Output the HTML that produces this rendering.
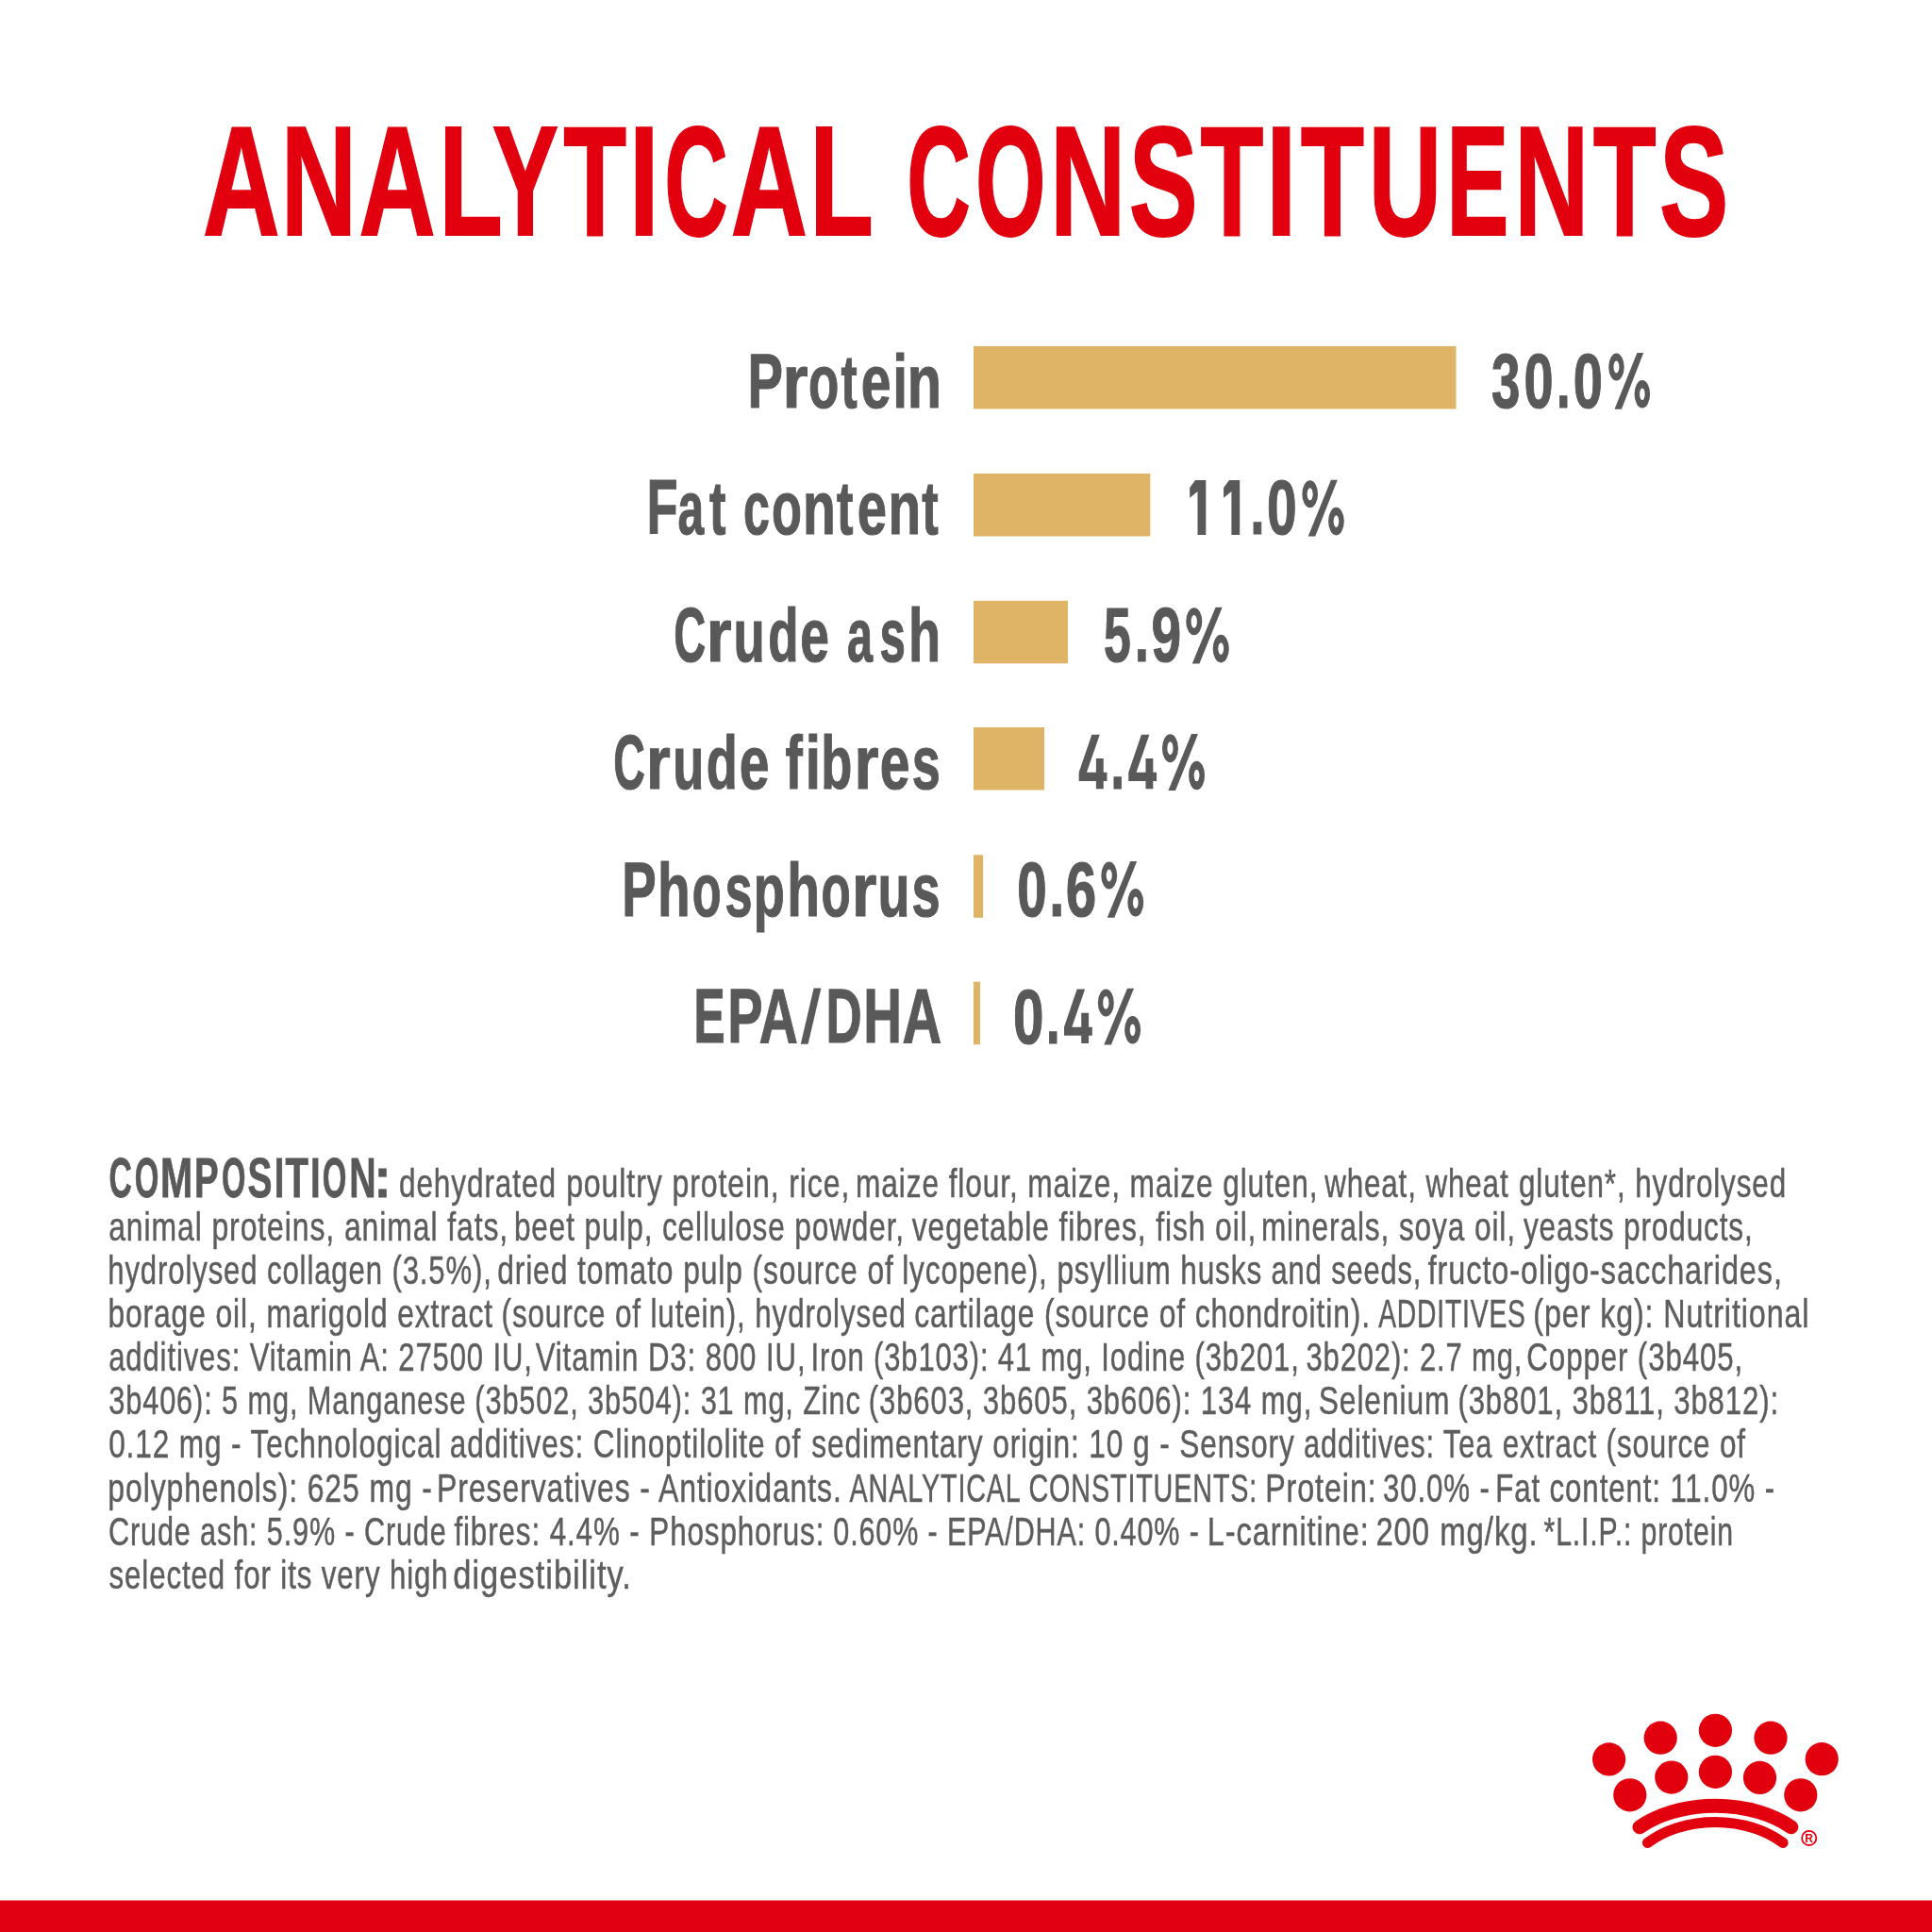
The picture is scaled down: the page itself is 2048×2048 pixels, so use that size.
<!DOCTYPE html>
<html><head><meta charset="utf-8"><style>
html,body{margin:0;padding:0;background:#fff;width:2048px;height:2048px;overflow:hidden}
svg{display:block;font-family:"Liberation Sans",sans-serif;will-change:transform}
</style></head><body>
<svg width="2048" height="2048" viewBox="0 0 2048 2048">
<rect x="0" y="0" width="2048" height="2048" fill="#fff"/>
<text x="215.00" y="248.90" font-size="165.38" font-weight="700" fill="#e2000f" stroke="#e2000f" stroke-width="1.8" textLength="81.62" lengthAdjust="spacingAndGlyphs">A</text>
<text x="297.80" y="248.90" font-size="165.38" font-weight="700" fill="#e2000f" stroke="#e2000f" stroke-width="1.8" textLength="80.42" lengthAdjust="spacingAndGlyphs">N</text>
<text x="380.61" y="248.90" font-size="165.38" font-weight="700" fill="#e2000f" stroke="#e2000f" stroke-width="1.8" textLength="81.19" lengthAdjust="spacingAndGlyphs">A</text>
<text x="465.24" y="248.90" font-size="165.38" font-weight="700" fill="#e2000f" stroke="#e2000f" stroke-width="1.8" textLength="67.67" lengthAdjust="spacingAndGlyphs">L</text>
<text x="521.79" y="248.90" font-size="165.38" font-weight="700" fill="#e2000f" stroke="#e2000f" stroke-width="1.8" textLength="70.29" lengthAdjust="spacingAndGlyphs">Y</text>
<text x="597.14" y="248.90" font-size="165.38" font-weight="700" fill="#e2000f" stroke="#e2000f" stroke-width="1.8" textLength="66.88" lengthAdjust="spacingAndGlyphs">T</text>
<text x="666.75" y="248.90" font-size="165.38" font-weight="700" fill="#e2000f" stroke="#e2000f" stroke-width="1.8" textLength="31.99" lengthAdjust="spacingAndGlyphs">I</text>
<text x="704.28" y="248.90" font-size="165.38" font-weight="700" fill="#e2000f" stroke="#e2000f" stroke-width="1.8" textLength="67.57" lengthAdjust="spacingAndGlyphs">C</text>
<text x="774.71" y="248.90" font-size="165.38" font-weight="700" fill="#e2000f" stroke="#e2000f" stroke-width="1.8" textLength="81.19" lengthAdjust="spacingAndGlyphs">A</text>
<text x="858.34" y="248.90" font-size="165.38" font-weight="700" fill="#e2000f" stroke="#e2000f" stroke-width="1.8" textLength="67.67" lengthAdjust="spacingAndGlyphs">L</text>
<text x="961.18" y="248.90" font-size="165.38" font-weight="700" fill="#e2000f" stroke="#e2000f" stroke-width="1.8" textLength="67.68" lengthAdjust="spacingAndGlyphs">C</text>
<text x="1033.99" y="248.90" font-size="165.38" font-weight="700" fill="#e2000f" stroke="#e2000f" stroke-width="1.8" textLength="74.55" lengthAdjust="spacingAndGlyphs">O</text>
<text x="1113.10" y="248.90" font-size="165.38" font-weight="700" fill="#e2000f" stroke="#e2000f" stroke-width="1.8" textLength="80.42" lengthAdjust="spacingAndGlyphs">N</text>
<text x="1196.66" y="248.90" font-size="165.38" font-weight="700" fill="#e2000f" stroke="#e2000f" stroke-width="1.8" textLength="72.96" lengthAdjust="spacingAndGlyphs">S</text>
<text x="1272.54" y="248.90" font-size="165.38" font-weight="700" fill="#e2000f" stroke="#e2000f" stroke-width="1.8" textLength="66.88" lengthAdjust="spacingAndGlyphs">T</text>
<text x="1341.91" y="248.90" font-size="165.38" font-weight="700" fill="#e2000f" stroke="#e2000f" stroke-width="1.8" textLength="32.57" lengthAdjust="spacingAndGlyphs">I</text>
<text x="1378.83" y="248.90" font-size="165.38" font-weight="700" fill="#e2000f" stroke="#e2000f" stroke-width="1.8" textLength="67.40" lengthAdjust="spacingAndGlyphs">T</text>
<text x="1450.72" y="248.90" font-size="165.38" font-weight="700" fill="#e2000f" stroke="#e2000f" stroke-width="1.8" textLength="77.48" lengthAdjust="spacingAndGlyphs">U</text>
<text x="1533.20" y="248.90" font-size="165.38" font-weight="700" fill="#e2000f" stroke="#e2000f" stroke-width="1.8" textLength="66.23" lengthAdjust="spacingAndGlyphs">E</text>
<text x="1605.32" y="248.90" font-size="165.38" font-weight="700" fill="#e2000f" stroke="#e2000f" stroke-width="1.8" textLength="79.07" lengthAdjust="spacingAndGlyphs">N</text>
<text x="1688.64" y="248.90" font-size="165.38" font-weight="700" fill="#e2000f" stroke="#e2000f" stroke-width="1.8" textLength="66.88" lengthAdjust="spacingAndGlyphs">T</text>
<text x="1759.04" y="248.90" font-size="165.38" font-weight="700" fill="#e2000f" stroke="#e2000f" stroke-width="1.8" textLength="73.41" lengthAdjust="spacingAndGlyphs">S</text>
<text x="792.42" y="431.70" font-size="81.76" font-weight="700" fill="#595959" stroke="#595959" stroke-width="1.2" textLength="37.49" lengthAdjust="spacingAndGlyphs">P</text>
<text x="829.39" y="431.70" font-size="79.26" font-weight="700" fill="#595959" stroke="#595959" stroke-width="1.2" textLength="27.06" lengthAdjust="spacingAndGlyphs">r</text>
<text x="857.00" y="431.70" font-size="79.26" font-weight="700" fill="#595959" stroke="#595959" stroke-width="1.2" textLength="32.31" lengthAdjust="spacingAndGlyphs">o</text>
<text x="891.45" y="431.70" font-size="79.26" font-weight="700" fill="#595959" stroke="#595959" stroke-width="1.2" textLength="17.23" lengthAdjust="spacingAndGlyphs">t</text>
<text x="912.73" y="431.70" font-size="79.26" font-weight="700" fill="#595959" stroke="#595959" stroke-width="1.2" textLength="31.83" lengthAdjust="spacingAndGlyphs">e</text>
<text x="946.45" y="431.70" font-size="79.26" font-weight="700" fill="#595959" stroke="#595959" stroke-width="1.2" textLength="15.41" lengthAdjust="spacingAndGlyphs">i</text>
<text x="961.77" y="431.70" font-size="79.26" font-weight="700" fill="#595959" stroke="#595959" stroke-width="1.2" textLength="36.20" lengthAdjust="spacingAndGlyphs">n</text>
<text x="685.56" y="566.40" font-size="81.76" font-weight="700" fill="#595959" stroke="#595959" stroke-width="1.2" textLength="33.09" lengthAdjust="spacingAndGlyphs">F</text>
<text x="718.59" y="566.40" font-size="79.26" font-weight="700" fill="#595959" stroke="#595959" stroke-width="1.2" textLength="27.64" lengthAdjust="spacingAndGlyphs">a</text>
<text x="751.94" y="566.40" font-size="79.26" font-weight="700" fill="#595959" stroke="#595959" stroke-width="1.2" textLength="17.45" lengthAdjust="spacingAndGlyphs">t</text>
<text x="788.00" y="566.40" font-size="79.26" font-weight="700" fill="#595959" stroke="#595959" stroke-width="1.2" textLength="27.87" lengthAdjust="spacingAndGlyphs">c</text>
<text x="818.12" y="566.40" font-size="79.26" font-weight="700" fill="#595959" stroke="#595959" stroke-width="1.2" textLength="31.97" lengthAdjust="spacingAndGlyphs">o</text>
<text x="851.03" y="566.40" font-size="79.26" font-weight="700" fill="#595959" stroke="#595959" stroke-width="1.2" textLength="34.80" lengthAdjust="spacingAndGlyphs">n</text>
<text x="886.94" y="566.40" font-size="79.26" font-weight="700" fill="#595959" stroke="#595959" stroke-width="1.2" textLength="17.45" lengthAdjust="spacingAndGlyphs">t</text>
<text x="908.67" y="566.40" font-size="79.26" font-weight="700" fill="#595959" stroke="#595959" stroke-width="1.2" textLength="31.25" lengthAdjust="spacingAndGlyphs">e</text>
<text x="941.55" y="566.40" font-size="79.26" font-weight="700" fill="#595959" stroke="#595959" stroke-width="1.2" textLength="34.55" lengthAdjust="spacingAndGlyphs">n</text>
<text x="977.24" y="566.40" font-size="79.26" font-weight="700" fill="#595959" stroke="#595959" stroke-width="1.2" textLength="17.45" lengthAdjust="spacingAndGlyphs">t</text>
<text x="714.24" y="701.40" font-size="81.76" font-weight="700" fill="#595959" stroke="#595959" stroke-width="1.2" textLength="33.88" lengthAdjust="spacingAndGlyphs">C</text>
<text x="748.84" y="701.40" font-size="79.26" font-weight="700" fill="#595959" stroke="#595959" stroke-width="1.2" textLength="26.81" lengthAdjust="spacingAndGlyphs">r</text>
<text x="777.56" y="701.40" font-size="79.26" font-weight="700" fill="#595959" stroke="#595959" stroke-width="1.2" textLength="33.29" lengthAdjust="spacingAndGlyphs">u</text>
<text x="814.13" y="701.40" font-size="79.26" font-weight="700" fill="#595959" stroke="#595959" stroke-width="1.2" textLength="32.31" lengthAdjust="spacingAndGlyphs">d</text>
<text x="848.31" y="701.40" font-size="79.26" font-weight="700" fill="#595959" stroke="#595959" stroke-width="1.2" textLength="30.68" lengthAdjust="spacingAndGlyphs">e</text>
<text x="898.02" y="701.40" font-size="79.26" font-weight="700" fill="#595959" stroke="#595959" stroke-width="1.2" textLength="27.02" lengthAdjust="spacingAndGlyphs">a</text>
<text x="932.59" y="701.40" font-size="79.26" font-weight="700" fill="#595959" stroke="#595959" stroke-width="1.2" textLength="27.37" lengthAdjust="spacingAndGlyphs">s</text>
<text x="963.02" y="701.40" font-size="79.26" font-weight="700" fill="#595959" stroke="#595959" stroke-width="1.2" textLength="34.14" lengthAdjust="spacingAndGlyphs">h</text>
<text x="650.35" y="836.00" font-size="81.76" font-weight="700" fill="#595959" stroke="#595959" stroke-width="1.2" textLength="33.55" lengthAdjust="spacingAndGlyphs">C</text>
<text x="685.03" y="836.00" font-size="79.26" font-weight="700" fill="#595959" stroke="#595959" stroke-width="1.2" textLength="25.68" lengthAdjust="spacingAndGlyphs">r</text>
<text x="713.18" y="836.00" font-size="79.26" font-weight="700" fill="#595959" stroke="#595959" stroke-width="1.2" textLength="33.16" lengthAdjust="spacingAndGlyphs">u</text>
<text x="748.68" y="836.00" font-size="79.26" font-weight="700" fill="#595959" stroke="#595959" stroke-width="1.2" textLength="33.04" lengthAdjust="spacingAndGlyphs">d</text>
<text x="783.74" y="836.00" font-size="79.26" font-weight="700" fill="#595959" stroke="#595959" stroke-width="1.2" textLength="31.71" lengthAdjust="spacingAndGlyphs">e</text>
<text x="832.53" y="836.00" font-size="79.26" font-weight="700" fill="#595959" stroke="#595959" stroke-width="1.2" textLength="18.29" lengthAdjust="spacingAndGlyphs">f</text>
<text x="853.65" y="836.00" font-size="79.26" font-weight="700" fill="#595959" stroke="#595959" stroke-width="1.2" textLength="16.21" lengthAdjust="spacingAndGlyphs">i</text>
<text x="870.32" y="836.00" font-size="79.26" font-weight="700" fill="#595959" stroke="#595959" stroke-width="1.2" textLength="33.04" lengthAdjust="spacingAndGlyphs">b</text>
<text x="905.39" y="836.00" font-size="79.26" font-weight="700" fill="#595959" stroke="#595959" stroke-width="1.2" textLength="25.93" lengthAdjust="spacingAndGlyphs">r</text>
<text x="932.84" y="836.00" font-size="79.26" font-weight="700" fill="#595959" stroke="#595959" stroke-width="1.2" textLength="31.71" lengthAdjust="spacingAndGlyphs">e</text>
<text x="966.63" y="836.00" font-size="79.26" font-weight="700" fill="#595959" stroke="#595959" stroke-width="1.2" textLength="30.04" lengthAdjust="spacingAndGlyphs">s</text>
<text x="659.23" y="970.70" font-size="81.76" font-weight="700" fill="#595959" stroke="#595959" stroke-width="1.2" textLength="36.43" lengthAdjust="spacingAndGlyphs">P</text>
<text x="697.06" y="970.70" font-size="79.26" font-weight="700" fill="#595959" stroke="#595959" stroke-width="1.2" textLength="34.65" lengthAdjust="spacingAndGlyphs">h</text>
<text x="733.79" y="970.70" font-size="79.26" font-weight="700" fill="#595959" stroke="#595959" stroke-width="1.2" textLength="30.82" lengthAdjust="spacingAndGlyphs">o</text>
<text x="768.39" y="970.70" font-size="79.26" font-weight="700" fill="#595959" stroke="#595959" stroke-width="1.2" textLength="29.00" lengthAdjust="spacingAndGlyphs">s</text>
<text x="798.82" y="970.70" font-size="79.26" font-weight="700" fill="#595959" stroke="#595959" stroke-width="1.2" textLength="33.04" lengthAdjust="spacingAndGlyphs">p</text>
<text x="834.16" y="970.70" font-size="79.26" font-weight="700" fill="#595959" stroke="#595959" stroke-width="1.2" textLength="34.65" lengthAdjust="spacingAndGlyphs">h</text>
<text x="870.56" y="970.70" font-size="79.26" font-weight="700" fill="#595959" stroke="#595959" stroke-width="1.2" textLength="31.28" lengthAdjust="spacingAndGlyphs">o</text>
<text x="903.02" y="970.70" font-size="79.26" font-weight="700" fill="#595959" stroke="#595959" stroke-width="1.2" textLength="26.31" lengthAdjust="spacingAndGlyphs">r</text>
<text x="930.58" y="970.70" font-size="79.26" font-weight="700" fill="#595959" stroke="#595959" stroke-width="1.2" textLength="34.05" lengthAdjust="spacingAndGlyphs">u</text>
<text x="966.62" y="970.70" font-size="79.26" font-weight="700" fill="#595959" stroke="#595959" stroke-width="1.2" textLength="30.16" lengthAdjust="spacingAndGlyphs">s</text>
<text x="735.56" y="1105.40" font-size="81.76" font-weight="700" fill="#595959" stroke="#595959" stroke-width="1.2" textLength="33.13" lengthAdjust="spacingAndGlyphs">E</text>
<text x="771.14" y="1105.40" font-size="81.76" font-weight="700" fill="#595959" stroke="#595959" stroke-width="1.2" textLength="37.26" lengthAdjust="spacingAndGlyphs">P</text>
<text x="804.81" y="1105.40" font-size="81.76" font-weight="700" fill="#595959" stroke="#595959" stroke-width="1.2" textLength="41.08" lengthAdjust="spacingAndGlyphs">A</text>
<text x="875.44" y="1105.40" font-size="81.76" font-weight="700" fill="#595959" stroke="#595959" stroke-width="1.2" textLength="38.18" lengthAdjust="spacingAndGlyphs">D</text>
<text x="915.21" y="1105.40" font-size="81.76" font-weight="700" fill="#595959" stroke="#595959" stroke-width="1.2" textLength="40.71" lengthAdjust="spacingAndGlyphs">H</text>
<text x="956.39" y="1105.40" font-size="81.76" font-weight="700" fill="#595959" stroke="#595959" stroke-width="1.2" textLength="41.62" lengthAdjust="spacingAndGlyphs">A</text>
<text x="1581.03" y="431.60" font-size="81.76" font-weight="700" fill="#595959" stroke="#595959" stroke-width="1.2" textLength="30.46" lengthAdjust="spacingAndGlyphs">3</text>
<text x="1615.38" y="431.60" font-size="81.76" font-weight="700" fill="#595959" stroke="#595959" stroke-width="1.2" textLength="31.13" lengthAdjust="spacingAndGlyphs">0</text>
<text x="1649.77" y="431.60" font-size="81.76" font-weight="700" fill="#595959" stroke="#595959" stroke-width="1.2" textLength="15.01" lengthAdjust="spacingAndGlyphs">.</text>
<text x="1667.67" y="431.60" font-size="81.76" font-weight="700" fill="#595959" stroke="#595959" stroke-width="1.2" textLength="31.13" lengthAdjust="spacingAndGlyphs">0</text>
<text x="1325.37" y="566.40" font-size="81.76" font-weight="700" fill="#595959" stroke="#595959" stroke-width="1.2" textLength="15.40" lengthAdjust="spacingAndGlyphs">.</text>
<text x="1342.93" y="566.40" font-size="81.76" font-weight="700" fill="#595959" stroke="#595959" stroke-width="1.2" textLength="31.71" lengthAdjust="spacingAndGlyphs">0</text>
<text x="1170.02" y="701.40" font-size="81.76" font-weight="700" fill="#595959" stroke="#595959" stroke-width="1.2" textLength="28.79" lengthAdjust="spacingAndGlyphs">5</text>
<text x="1202.82" y="701.40" font-size="81.76" font-weight="700" fill="#595959" stroke="#595959" stroke-width="1.2" textLength="15.21" lengthAdjust="spacingAndGlyphs">.</text>
<text x="1220.48" y="701.40" font-size="81.76" font-weight="700" fill="#595959" stroke="#595959" stroke-width="1.2" textLength="31.68" lengthAdjust="spacingAndGlyphs">9</text>
<text x="1177.37" y="835.80" font-size="81.76" font-weight="700" fill="#595959" stroke="#595959" stroke-width="1.2" textLength="15.01" lengthAdjust="spacingAndGlyphs">.</text>
<text x="1078.15" y="970.60" font-size="81.76" font-weight="700" fill="#595959" stroke="#595959" stroke-width="1.2" textLength="31.48" lengthAdjust="spacingAndGlyphs">0</text>
<text x="1112.33" y="970.60" font-size="81.76" font-weight="700" fill="#595959" stroke="#595959" stroke-width="1.2" textLength="16.00" lengthAdjust="spacingAndGlyphs">.</text>
<text x="1129.76" y="970.60" font-size="81.76" font-weight="700" fill="#595959" stroke="#595959" stroke-width="1.2" textLength="32.46" lengthAdjust="spacingAndGlyphs">6</text>
<text x="1074.07" y="1105.50" font-size="81.76" font-weight="700" fill="#595959" stroke="#595959" stroke-width="1.2" textLength="32.52" lengthAdjust="spacingAndGlyphs">0</text>
<text x="1108.87" y="1105.50" font-size="81.76" font-weight="700" fill="#595959" stroke="#595959" stroke-width="1.2" textLength="15.01" lengthAdjust="spacingAndGlyphs">.</text>
<text x="115.39" y="1269.30" font-size="59.84" font-weight="700" fill="#595959" stroke="#595959" stroke-width="0.8" textLength="24.34" lengthAdjust="spacingAndGlyphs">C</text>
<text x="142.72" y="1269.30" font-size="59.84" font-weight="700" fill="#595959" stroke="#595959" stroke-width="0.8" textLength="25.65" lengthAdjust="spacingAndGlyphs">O</text>
<text x="169.95" y="1269.30" font-size="59.84" font-weight="700" fill="#595959" stroke="#595959" stroke-width="0.8" textLength="34.22" lengthAdjust="spacingAndGlyphs">M</text>
<text x="206.03" y="1269.30" font-size="59.84" font-weight="700" fill="#595959" stroke="#595959" stroke-width="0.8" textLength="25.62" lengthAdjust="spacingAndGlyphs">P</text>
<text x="235.03" y="1269.30" font-size="59.84" font-weight="700" fill="#595959" stroke="#595959" stroke-width="0.8" textLength="25.42" lengthAdjust="spacingAndGlyphs">O</text>
<text x="262.46" y="1269.30" font-size="59.84" font-weight="700" fill="#595959" stroke="#595959" stroke-width="0.8" textLength="25.97" lengthAdjust="spacingAndGlyphs">S</text>
<text x="290.74" y="1269.30" font-size="59.84" font-weight="700" fill="#595959" stroke="#595959" stroke-width="0.8" textLength="10.63" lengthAdjust="spacingAndGlyphs">I</text>
<text x="302.50" y="1269.30" font-size="59.84" font-weight="700" fill="#595959" stroke="#595959" stroke-width="0.8" textLength="24.43" lengthAdjust="spacingAndGlyphs">T</text>
<text x="328.94" y="1269.30" font-size="59.84" font-weight="700" fill="#595959" stroke="#595959" stroke-width="0.8" textLength="10.63" lengthAdjust="spacingAndGlyphs">I</text>
<text x="341.72" y="1269.30" font-size="59.84" font-weight="700" fill="#595959" stroke="#595959" stroke-width="0.8" textLength="25.65" lengthAdjust="spacingAndGlyphs">O</text>
<text x="370.17" y="1269.30" font-size="59.84" font-weight="700" fill="#595959" stroke="#595959" stroke-width="0.8" textLength="28.40" lengthAdjust="spacingAndGlyphs">N</text>
<text x="396.39" y="1269.30" font-size="59.84" font-weight="700" fill="#595959" stroke="#595959" stroke-width="0.8" textLength="18.03" lengthAdjust="spacingAndGlyphs">:</text>
<text x="422.94" y="1269.45" font-size="42.30" font-weight="400" fill="#5d5d5d" stroke="#5d5d5d" stroke-width="0.5" letter-spacing="1.2" textLength="166.99" lengthAdjust="spacingAndGlyphs">dehydrated</text>
<text x="600.17" y="1269.45" font-size="42.30" font-weight="400" fill="#5d5d5d" stroke="#5d5d5d" stroke-width="0.5" letter-spacing="1.2" textLength="301.15" lengthAdjust="spacingAndGlyphs">poultry protein, rice,</text>
<text x="907.09" y="1269.45" font-size="42.30" font-weight="400" fill="#5d5d5d" stroke="#5d5d5d" stroke-width="0.5" letter-spacing="1.2" textLength="490.35" lengthAdjust="spacingAndGlyphs">maize flour, maize, maize gluten,</text>
<text x="1404.15" y="1269.45" font-size="42.30" font-weight="400" fill="#5d5d5d" stroke="#5d5d5d" stroke-width="0.5" letter-spacing="1.2" textLength="195.34" lengthAdjust="spacingAndGlyphs">wheat, wheat</text>
<text x="1609.95" y="1269.45" font-size="42.30" font-weight="400" fill="#5d5d5d" stroke="#5d5d5d" stroke-width="0.5" letter-spacing="1.2" textLength="284.10" lengthAdjust="spacingAndGlyphs">gluten*, hydrolysed</text>
<text x="115.13" y="1314.95" font-size="42.30" font-weight="400" fill="#5d5d5d" stroke="#5d5d5d" stroke-width="0.5" letter-spacing="1.2" textLength="423.97" lengthAdjust="spacingAndGlyphs">animal proteins, animal fats,</text>
<text x="544.90" y="1314.95" font-size="42.30" font-weight="400" fill="#5d5d5d" stroke="#5d5d5d" stroke-width="0.5" letter-spacing="1.2" textLength="414.09" lengthAdjust="spacingAndGlyphs">beet pulp, cellulose powder,</text>
<text x="966.76" y="1314.95" font-size="42.30" font-weight="400" fill="#5d5d5d" stroke="#5d5d5d" stroke-width="0.5" letter-spacing="1.2" textLength="365.61" lengthAdjust="spacingAndGlyphs">vegetable fibres, fish oil,</text>
<text x="1336.89" y="1314.95" font-size="42.30" font-weight="400" fill="#5d5d5d" stroke="#5d5d5d" stroke-width="0.5" letter-spacing="1.2" textLength="270.06" lengthAdjust="spacingAndGlyphs">minerals, soya oil,</text>
<text x="1614.95" y="1314.95" font-size="42.30" font-weight="400" fill="#5d5d5d" stroke="#5d5d5d" stroke-width="0.5" letter-spacing="1.2" textLength="243.70" lengthAdjust="spacingAndGlyphs">yeasts products,</text>
<text x="114.24" y="1360.95" font-size="42.30" font-weight="400" fill="#5d5d5d" stroke="#5d5d5d" stroke-width="0.5" letter-spacing="1.2" textLength="407.62" lengthAdjust="spacingAndGlyphs">hydrolysed collagen (3.5%),</text>
<text x="527.13" y="1360.95" font-size="42.30" font-weight="400" fill="#5d5d5d" stroke="#5d5d5d" stroke-width="0.5" letter-spacing="1.2" textLength="420.55" lengthAdjust="spacingAndGlyphs">dried tomato pulp (source of</text>
<text x="956.20" y="1360.95" font-size="42.30" font-weight="400" fill="#5d5d5d" stroke="#5d5d5d" stroke-width="0.5" letter-spacing="1.2" textLength="381.96" lengthAdjust="spacingAndGlyphs">lycopene), psyllium husks</text>
<text x="1347.57" y="1360.95" font-size="42.30" font-weight="400" fill="#5d5d5d" stroke="#5d5d5d" stroke-width="0.5" letter-spacing="1.2" textLength="159.76" lengthAdjust="spacingAndGlyphs">and seeds,</text>
<text x="1513.67" y="1360.95" font-size="42.30" font-weight="400" fill="#5d5d5d" stroke="#5d5d5d" stroke-width="0.5" letter-spacing="1.2" textLength="376.18" lengthAdjust="spacingAndGlyphs">fructo-oligo-saccharides,</text>
<text x="114.38" y="1407.15" font-size="42.30" font-weight="400" fill="#5d5d5d" stroke="#5d5d5d" stroke-width="0.5" letter-spacing="1.2" textLength="408.52" lengthAdjust="spacingAndGlyphs">borage oil, marigold extract</text>
<text x="531.60" y="1407.15" font-size="42.30" font-weight="400" fill="#5d5d5d" stroke="#5d5d5d" stroke-width="0.5" letter-spacing="1.2" textLength="429.15" lengthAdjust="spacingAndGlyphs">(source of lutein), hydrolysed</text>
<text x="969.34" y="1407.15" font-size="42.30" font-weight="400" fill="#5d5d5d" stroke="#5d5d5d" stroke-width="0.5" letter-spacing="1.2" textLength="483.54" lengthAdjust="spacingAndGlyphs">cartilage (source of chondroitin).</text>
<text x="1461.15" y="1407.15" font-size="42.30" font-weight="400" fill="#5d5d5d" stroke="#5d5d5d" stroke-width="0.5" letter-spacing="1.2" textLength="156.66" lengthAdjust="spacingAndGlyphs">ADDITIVES</text>
<text x="1625.34" y="1407.15" font-size="42.30" font-weight="400" fill="#5d5d5d" stroke="#5d5d5d" stroke-width="0.5" letter-spacing="1.2" textLength="293.10" lengthAdjust="spacingAndGlyphs">(per kg): Nutritional</text>
<text x="115.16" y="1453.25" font-size="42.30" font-weight="400" fill="#5d5d5d" stroke="#5d5d5d" stroke-width="0.5" letter-spacing="1.2" textLength="449.71" lengthAdjust="spacingAndGlyphs">additives: Vitamin A: 27500 IU,</text>
<text x="567.67" y="1453.25" font-size="42.30" font-weight="400" fill="#5d5d5d" stroke="#5d5d5d" stroke-width="0.5" letter-spacing="1.2" textLength="286.78" lengthAdjust="spacingAndGlyphs">Vitamin D3: 800 IU,</text>
<text x="859.60" y="1453.25" font-size="42.30" font-weight="400" fill="#5d5d5d" stroke="#5d5d5d" stroke-width="0.5" letter-spacing="1.2" textLength="518.12" lengthAdjust="spacingAndGlyphs">Iron (3b103): 41 mg, Iodine (3b201,</text>
<text x="1384.47" y="1453.25" font-size="42.30" font-weight="400" fill="#5d5d5d" stroke="#5d5d5d" stroke-width="0.5" letter-spacing="1.2" textLength="229.85" lengthAdjust="spacingAndGlyphs">3b202): 2.7 mg,</text>
<text x="1618.37" y="1453.25" font-size="42.30" font-weight="400" fill="#5d5d5d" stroke="#5d5d5d" stroke-width="0.5" letter-spacing="1.2" textLength="229.82" lengthAdjust="spacingAndGlyphs">Copper (3b405,</text>
<text x="115.18" y="1499.35" font-size="42.30" font-weight="400" fill="#5d5d5d" stroke="#5d5d5d" stroke-width="0.5" letter-spacing="1.2" textLength="379.30" lengthAdjust="spacingAndGlyphs">3b406): 5 mg, Manganese</text>
<text x="503.33" y="1499.35" font-size="42.30" font-weight="400" fill="#5d5d5d" stroke="#5d5d5d" stroke-width="0.5" letter-spacing="1.2" textLength="409.33" lengthAdjust="spacingAndGlyphs">(3b502, 3b504): 31 mg, Zinc</text>
<text x="920.81" y="1499.35" font-size="42.30" font-weight="400" fill="#5d5d5d" stroke="#5d5d5d" stroke-width="0.5" letter-spacing="1.2" textLength="470.42" lengthAdjust="spacingAndGlyphs">(3b603, 3b605, 3b606): 134 mg,</text>
<text x="1397.75" y="1499.35" font-size="42.30" font-weight="400" fill="#5d5d5d" stroke="#5d5d5d" stroke-width="0.5" letter-spacing="1.2" textLength="139.58" lengthAdjust="spacingAndGlyphs">Selenium</text>
<text x="1545.41" y="1499.35" font-size="42.30" font-weight="400" fill="#5d5d5d" stroke="#5d5d5d" stroke-width="0.5" letter-spacing="1.2" textLength="340.50" lengthAdjust="spacingAndGlyphs">(3b801, 3b811, 3b812):</text>
<text x="115.14" y="1545.45" font-size="42.30" font-weight="400" fill="#5d5d5d" stroke="#5d5d5d" stroke-width="0.5" letter-spacing="1.2" textLength="353.20" lengthAdjust="spacingAndGlyphs">0.12 mg - Technological</text>
<text x="476.74" y="1545.45" font-size="42.30" font-weight="400" fill="#5d5d5d" stroke="#5d5d5d" stroke-width="0.5" letter-spacing="1.2" textLength="372.49" lengthAdjust="spacingAndGlyphs">additives: Clinoptilolite of</text>
<text x="860.21" y="1545.45" font-size="42.30" font-weight="400" fill="#5d5d5d" stroke="#5d5d5d" stroke-width="0.5" letter-spacing="1.2" textLength="512.47" lengthAdjust="spacingAndGlyphs">sedimentary origin: 10 g - Sensory</text>
<text x="1381.97" y="1545.45" font-size="42.30" font-weight="400" fill="#5d5d5d" stroke="#5d5d5d" stroke-width="0.5" letter-spacing="1.2" textLength="200.21" lengthAdjust="spacingAndGlyphs">additives: Tea</text>
<text x="1592.75" y="1545.45" font-size="42.30" font-weight="400" fill="#5d5d5d" stroke="#5d5d5d" stroke-width="0.5" letter-spacing="1.2" textLength="258.10" lengthAdjust="spacingAndGlyphs">extract (source of</text>
<text x="114.37" y="1591.55" font-size="42.30" font-weight="400" fill="#5d5d5d" stroke="#5d5d5d" stroke-width="0.5" letter-spacing="1.2" textLength="344.52" lengthAdjust="spacingAndGlyphs">polyphenols): 625 mg -</text>
<text x="463.10" y="1591.55" font-size="42.30" font-weight="400" fill="#5d5d5d" stroke="#5d5d5d" stroke-width="0.5" letter-spacing="1.2" textLength="429.63" lengthAdjust="spacingAndGlyphs">Preservatives - Antioxidants.</text>
<text x="900.55" y="1591.55" font-size="42.30" font-weight="400" fill="#5d5d5d" stroke="#5d5d5d" stroke-width="0.5" letter-spacing="1.2" textLength="432.62" lengthAdjust="spacingAndGlyphs">ANALYTICAL CONSTITUENTS:</text>
<text x="1341.18" y="1591.55" font-size="42.30" font-weight="400" fill="#5d5d5d" stroke="#5d5d5d" stroke-width="0.5" letter-spacing="1.2" textLength="118.43" lengthAdjust="spacingAndGlyphs">Protein:</text>
<text x="1465.96" y="1591.55" font-size="42.30" font-weight="400" fill="#5d5d5d" stroke="#5d5d5d" stroke-width="0.5" letter-spacing="1.2" textLength="113.85" lengthAdjust="spacingAndGlyphs">30.0% -</text>
<text x="1585.26" y="1591.55" font-size="42.30" font-weight="400" fill="#5d5d5d" stroke="#5d5d5d" stroke-width="0.5" letter-spacing="1.2" textLength="296.71" lengthAdjust="spacingAndGlyphs">Fat content: 11.0% -</text>
<text x="115.00" y="1637.65" font-size="42.30" font-weight="400" fill="#5d5d5d" stroke="#5d5d5d" stroke-width="0.5" letter-spacing="1.2" textLength="358.64" lengthAdjust="spacingAndGlyphs">Crude ash: 5.9% - Crude</text>
<text x="481.38" y="1637.65" font-size="42.30" font-weight="400" fill="#5d5d5d" stroke="#5d5d5d" stroke-width="0.5" letter-spacing="1.2" textLength="392.92" lengthAdjust="spacingAndGlyphs">fibres: 4.4% - Phosphorus:</text>
<text x="883.29" y="1637.65" font-size="42.30" font-weight="400" fill="#5d5d5d" stroke="#5d5d5d" stroke-width="0.5" letter-spacing="1.2" textLength="388.40" lengthAdjust="spacingAndGlyphs">0.60% - EPA/DHA: 0.40% -</text>
<text x="1279.65" y="1637.65" font-size="42.30" font-weight="400" fill="#5d5d5d" stroke="#5d5d5d" stroke-width="0.5" letter-spacing="1.2" textLength="172.11" lengthAdjust="spacingAndGlyphs">L-carnitine:</text>
<text x="1458.39" y="1637.65" font-size="42.30" font-weight="400" fill="#5d5d5d" stroke="#5d5d5d" stroke-width="0.5" letter-spacing="1.2" textLength="172.23" lengthAdjust="spacingAndGlyphs">200 mg/kg.</text>
<text x="1636.51" y="1637.65" font-size="42.30" font-weight="400" fill="#5d5d5d" stroke="#5d5d5d" stroke-width="0.5" letter-spacing="1.2" textLength="201.49" lengthAdjust="spacingAndGlyphs">*L.I.P.: protein</text>
<text x="115.53" y="1683.75" font-size="42.30" font-weight="400" fill="#5d5d5d" stroke="#5d5d5d" stroke-width="0.5" letter-spacing="1.2" textLength="360.09" lengthAdjust="spacingAndGlyphs">selected for its very high</text>
<text x="480.32" y="1683.75" font-size="42.30" font-weight="400" fill="#5d5d5d" stroke="#5d5d5d" stroke-width="0.5" letter-spacing="1.2" textLength="189.47" lengthAdjust="spacingAndGlyphs">digestibility.</text>
<rect x="1032" y="367" width="511.5" height="66.5" fill="#e0b466"/><rect x="1032" y="502" width="187.3" height="66.5" fill="#e0b466"/><rect x="1032" y="636.8" width="100" height="66.5" fill="#e0b466"/><rect x="1032" y="771" width="75" height="66.5" fill="#e0b466"/><rect x="1032" y="906.3" width="10.1" height="66.5" fill="#e0b466"/><rect x="1032" y="1040.7" width="7" height="66.5" fill="#e0b466"/>
<polygon points="1261.2,516.9 1267.1,508.9 1278.3,508.9 1278.3,567.1 1269.5,567.1 1269.5,521.1 1261.2,527.8" fill="#595959"/><polygon points="1297.1,516.9 1303.0,508.9 1314.2,508.9 1314.2,567.1 1305.4,567.1 1305.4,521.1 1297.1,527.8" fill="#595959"/><path d="M1705.20 389.00a8.25 14.50 0 1 0 16.50 0a8.25 14.50 0 1 0 -16.50 0ZM1710.45 389.00a3.00 6.50 0 1 0 6.00 0a3.00 6.50 0 1 0 -6.00 0ZM1732.60 417.80a8.25 14.80 0 1 0 16.50 0a8.25 14.80 0 1 0 -16.50 0ZM1738.05 417.80a2.80 6.30 0 1 0 5.60 0a2.80 6.30 0 1 0 -5.60 0Z" fill="#595959" fill-rule="evenodd"/><polygon points="1711.50,433.70 1718.90,433.70 1742.20,373.90 1735.40,373.90" fill="#595959"/><path d="M1380.30 523.80a8.36 14.50 0 1 0 16.73 0a8.36 14.50 0 1 0 -16.73 0ZM1385.62 523.80a3.04 6.50 0 1 0 6.08 0a3.04 6.50 0 1 0 -6.08 0ZM1408.07 552.60a8.36 14.80 0 1 0 16.73 0a8.36 14.80 0 1 0 -16.73 0ZM1413.60 552.60a2.84 6.30 0 1 0 5.68 0a2.84 6.30 0 1 0 -5.68 0Z" fill="#595959" fill-rule="evenodd"/><polygon points="1386.69,568.50 1394.19,568.50 1417.81,508.70 1410.91,508.70" fill="#595959"/><path d="M1257.20 658.80a8.57 14.50 0 1 0 17.14 0a8.57 14.50 0 1 0 -17.14 0ZM1262.65 658.80a3.12 6.50 0 1 0 6.23 0a3.12 6.50 0 1 0 -6.23 0ZM1285.66 687.60a8.57 14.80 0 1 0 17.14 0a8.57 14.80 0 1 0 -17.14 0ZM1291.32 687.60a2.91 6.30 0 1 0 5.82 0a2.91 6.30 0 1 0 -5.82 0Z" fill="#595959" fill-rule="evenodd"/><polygon points="1263.74,703.50 1271.43,703.50 1295.63,643.70 1288.57,643.70" fill="#595959"/><path d="M1232.00 793.20a8.46 14.50 0 1 0 16.91 0a8.46 14.50 0 1 0 -16.91 0ZM1237.38 793.20a3.08 6.50 0 1 0 6.15 0a3.08 6.50 0 1 0 -6.15 0ZM1260.09 822.00a8.46 14.80 0 1 0 16.91 0a8.46 14.80 0 1 0 -16.91 0ZM1265.67 822.00a2.87 6.30 0 1 0 5.74 0a2.87 6.30 0 1 0 -5.74 0Z" fill="#595959" fill-rule="evenodd"/><polygon points="1238.46,837.90 1246.04,837.90 1269.93,778.10 1262.96,778.10" fill="#595959"/><path d="M1167.30 928.00a8.44 14.50 0 1 0 16.88 0a8.44 14.50 0 1 0 -16.88 0ZM1172.67 928.00a3.07 6.50 0 1 0 6.14 0a3.07 6.50 0 1 0 -6.14 0ZM1195.32 956.80a8.44 14.80 0 1 0 16.88 0a8.44 14.80 0 1 0 -16.88 0ZM1200.90 956.80a2.86 6.30 0 1 0 5.73 0a2.86 6.30 0 1 0 -5.73 0Z" fill="#595959" fill-rule="evenodd"/><polygon points="1173.74,972.70 1181.31,972.70 1205.14,912.90 1198.19,912.90" fill="#595959"/><path d="M1163.80 1062.90a8.51 14.50 0 1 0 17.03 0a8.51 14.50 0 1 0 -17.03 0ZM1169.22 1062.90a3.10 6.50 0 1 0 6.19 0a3.10 6.50 0 1 0 -6.19 0ZM1192.07 1091.70a8.51 14.80 0 1 0 17.03 0a8.51 14.80 0 1 0 -17.03 0ZM1197.70 1091.70a2.89 6.30 0 1 0 5.78 0a2.89 6.30 0 1 0 -5.78 0Z" fill="#595959" fill-rule="evenodd"/><polygon points="1170.30,1107.60 1177.94,1107.60 1201.98,1047.80 1194.96,1047.80" fill="#595959"/><polygon points="1157.33,778.66 1165.78,778.66 1151.95,818.83 1161.88,818.83 1161.88,803.92 1169.75,803.92 1169.75,818.83 1173.48,818.83 1173.48,827.94 1169.75,827.94 1169.75,836.22 1161.88,836.22 1161.88,827.94 1143.66,827.94 1143.66,818.83" fill="#595959"/><polygon points="1209.93,778.66 1218.38,778.66 1204.55,818.83 1214.48,818.83 1214.48,803.92 1222.35,803.92 1222.35,818.83 1226.08,818.83 1226.08,827.94 1222.35,827.94 1222.35,836.22 1214.48,836.22 1214.48,827.94 1196.26,827.94 1196.26,818.83" fill="#595959"/><polygon points="1141.67,1048.54 1150.12,1048.54 1136.29,1088.71 1146.22,1088.71 1146.22,1073.80 1154.09,1073.80 1154.09,1088.71 1157.82,1088.71 1157.82,1097.82 1154.09,1097.82 1154.09,1106.10 1146.22,1106.10 1146.22,1097.82 1128.00,1097.82 1128.00,1088.71" fill="#595959"/><polygon points="848.8,1106.8 856.6,1106.8 870.4,1047.6 862.6,1047.6" fill="#595959"/>
<circle cx="1705.6" cy="1864.9" r="17.6" fill="#e2000f"/><circle cx="1760.2" cy="1842.2" r="17.6" fill="#e2000f"/><circle cx="1818.4" cy="1834.3" r="17.6" fill="#e2000f"/><circle cx="1877.0" cy="1842.2" r="17.6" fill="#e2000f"/><circle cx="1931.2" cy="1864.7" r="17.6" fill="#e2000f"/><circle cx="1727.8" cy="1902.8" r="17.6" fill="#e2000f"/><circle cx="1771.8" cy="1884.1" r="17.6" fill="#e2000f"/><circle cx="1818.4" cy="1878.3" r="17.6" fill="#e2000f"/><circle cx="1865.5" cy="1884.4" r="17.6" fill="#e2000f"/><circle cx="1908.8" cy="1902.8" r="17.6" fill="#e2000f"/><path d="M1738 1936.8 A110 71.2 0 0 1 1898.8 1936.8" stroke="#e2000f" stroke-width="15" fill="none" stroke-linecap="round"/><path d="M1746.4 1953.5 A98 69 0 0 1 1890.1 1953.5" stroke="#e2000f" stroke-width="11" fill="none" stroke-linecap="round"/><circle cx="1917.7" cy="1948.4" r="7.6" stroke="#e2000f" stroke-width="1.8" fill="none"/><text x="1917.7" y="1953" font-size="12" font-weight="700" fill="#e2000f" text-anchor="middle">R</text>
<rect x="0" y="2014.5" width="2048" height="33.5" fill="#e10012"/>
</svg>
</body></html>
